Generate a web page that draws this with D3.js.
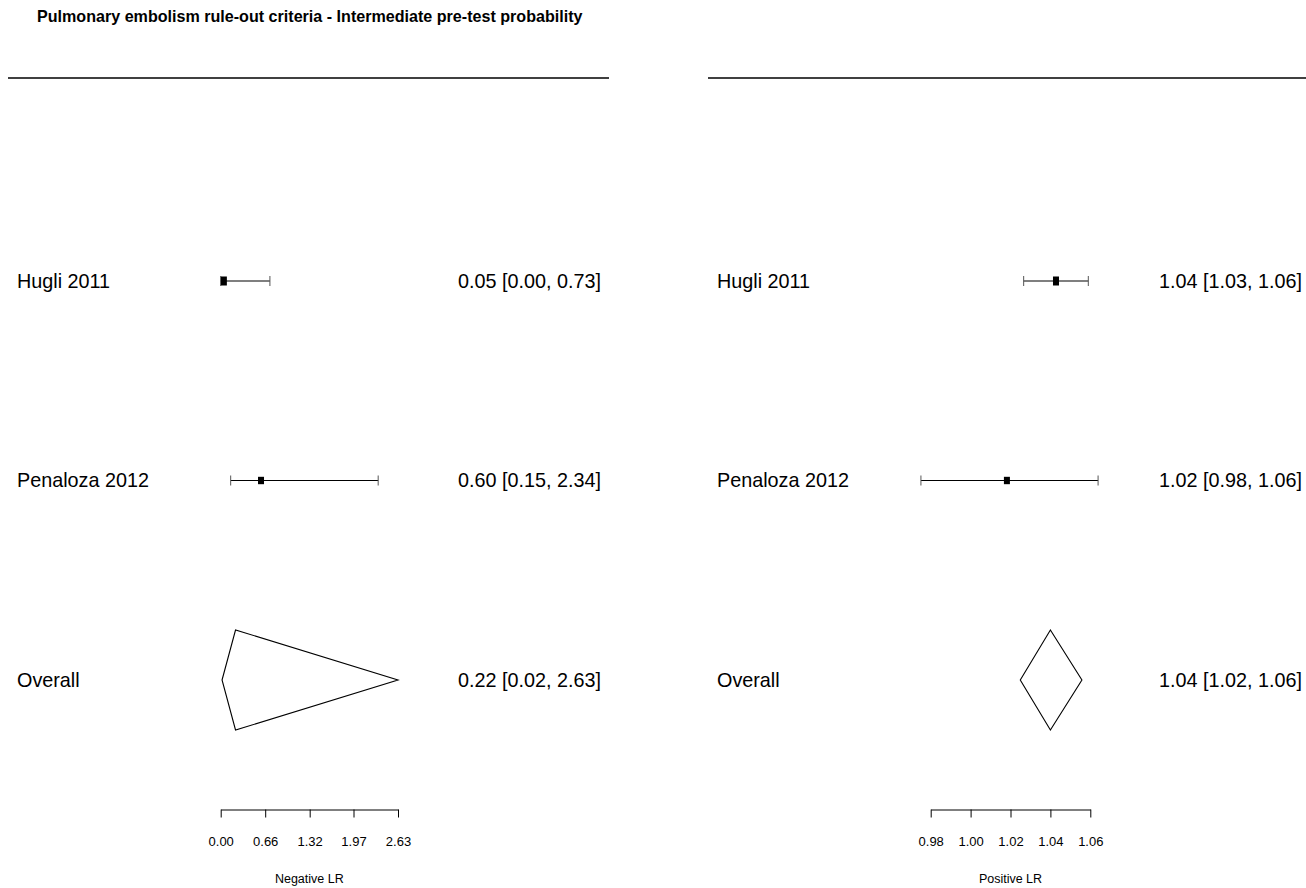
<!DOCTYPE html>
<html>
<head>
<meta charset="utf-8">
<script src="https://cdn.jsdelivr.net/npm/d3@7"></script>
<style>
  html, body { margin: 0; padding: 0; background: #fff; }
  svg { display: block; font-family: "Liberation Sans", Arial, sans-serif; }
</style>
</head>
<body>
<svg id="chart" width="1306" height="888"></svg>
<script>
// Study rows
const studies = ["Hugli 2011", "Penaloza 2012"];
const overallLabel = "Overall";

// Negative likelihood ratio: estimate, lower, upper
const negEst = [0.047, 0.598];
const negLo  = [0.000, 0.148];
const negHi  = [0.730, 2.336];
const negPooled = [0.22, 0.02, 2.63];

// Positive likelihood ratio: estimate, lower, upper
const posEst = [1.0428, 1.0182];
const posLo  = [1.0266, 0.9751];
const posHi  = [1.0590, 1.0639];
const posPooled = [1.0400, 1.0249, 1.0558];

// Relative study weights (box size)
const weights = [1.0, 0.82];

// Axis tick values
const negTicks = [0, 0.66, 1.32, 1.97, 2.63];
const posTicks = [0.98, 1.00, 1.02, 1.04, 1.06];

const titleText = "Pulmonary embolism rule-out criteria - Intermediate pre-test probability";
const negTitle = "Negative LR";
const posTitle = "Positive LR";

const svg = d3.select("#chart");
const fmt = d3.format(".2f");

svg.append("text")
  .attr("x", 37).attr("y", 22)
  .attr("font-size", 16.1).attr("font-weight", "bold")
  .text(titleText);

// row positions
const yRow = d3.scaleLinear().domain([0, 2]).range([281, 680]);

function panel(opts) {
  const g = svg.append("g");
  const x = d3.scaleLinear().domain(opts.domain).range(opts.range);

  g.append("line")
    .attr("x1", opts.ruleX[0]).attr("x2", opts.ruleX[1])
    .attr("y1", 78).attr("y2", 78)
    .attr("stroke", "#000").attr("stroke-width", 1.3);

  const rows = studies.map((s, i) => ({
    name: s, est: opts.est[i], lo: opts.lo[i], hi: opts.hi[i], w: weights[i], i
  }));

  // labels
  g.selectAll("text.lab").data(rows.map(d => d.name).concat([overallLabel]))
    .join("text").attr("class", "lab")
    .attr("x", opts.labelX).attr("y", (d, i) => yRow(i))
    .attr("dy", "0.35em").attr("font-size", 19.8)
    .text(d => d);

  // CI lines
  g.selectAll("line.ci").data(rows).join("line").attr("class", "ci")
    .attr("x1", d => x(d.lo)).attr("x2", d => x(d.hi))
    .attr("y1", d => yRow(d.i)).attr("y2", d => yRow(d.i))
    .attr("stroke", "#000").attr("stroke-width", 1.1);

  // end caps
  const caps = rows.flatMap(d => [{v: d.lo, i: d.i}, {v: d.hi, i: d.i}]);
  g.selectAll("line.cap").data(caps).join("line").attr("class", "cap")
    .attr("x1", d => x(d.v)).attr("x2", d => x(d.v))
    .attr("y1", d => yRow(d.i) - 5).attr("y2", d => yRow(d.i) + 5)
    .attr("stroke", "#555").attr("stroke-width", 1);

  // boxes
  g.selectAll("rect.box").data(rows).join("rect").attr("class", "box")
    .attr("x", d => x(d.est) - 3)
    .attr("y", d => yRow(d.i) - 4.5 * d.w)
    .attr("width", 6).attr("height", d => 9 * d.w)
    .attr("fill", "#000");

  // pooled diamond
  const [pe, pl, ph] = opts.pooled;
  const yc = yRow(2);
  g.append("path")
    .attr("d", d3.line()([[x(pl), yc], [x(pe), yc - 50], [x(ph), yc], [x(pe), yc + 50]]) + "Z")
    .attr("fill", "none").attr("stroke", "#000").attr("stroke-width", 1.1);

  // value text
  const vals = rows.map(d => [d.est, d.lo, d.hi]).concat([opts.pooled]);
  g.selectAll("text.val").data(vals).join("text").attr("class", "val")
    .attr("x", opts.valueX).attr("y", (d, i) => yRow(i))
    .attr("dy", "0.35em").attr("text-anchor", "end").attr("font-size", 19.8)
    .text(d => `${fmt(d[0])} [${fmt(d[1])}, ${fmt(d[2])}]`);

  // axis
  const ax = g.append("g").attr("transform", "translate(0,809.5)")
    .call(d3.axisBottom(x).tickValues(opts.ticks).tickFormat(fmt).tickSize(8).tickSizeOuter(0).tickPadding(19));
  ax.selectAll("text").attr("font-size", 13).attr("fill", "#000")
    .attr("font-family", "Liberation Sans, Arial, sans-serif");
  ax.selectAll("path, line").attr("stroke", "#000");

  g.append("text")
    .attr("x", (opts.range[0] + opts.range[1]) / 2).attr("y", 884)
    .attr("dy", "-0.1em")
    .attr("text-anchor", "middle").attr("font-size", 12.5)
    .text(opts.title);
}

panel({
  domain: [0, 2.63], range: [220.7, 398], ruleX: [8, 609],
  labelX: 17, valueX: 601,
  est: negEst, lo: negLo, hi: negHi, pooled: negPooled,
  ticks: negTicks, title: negTitle
});

panel({
  domain: [0.98, 1.06], range: [930.7, 1090.3], ruleX: [708, 1306],
  labelX: 717, valueX: 1302,
  est: posEst, lo: posLo, hi: posHi, pooled: posPooled,
  ticks: posTicks, title: posTitle
});
</script>
</body>
</html>
